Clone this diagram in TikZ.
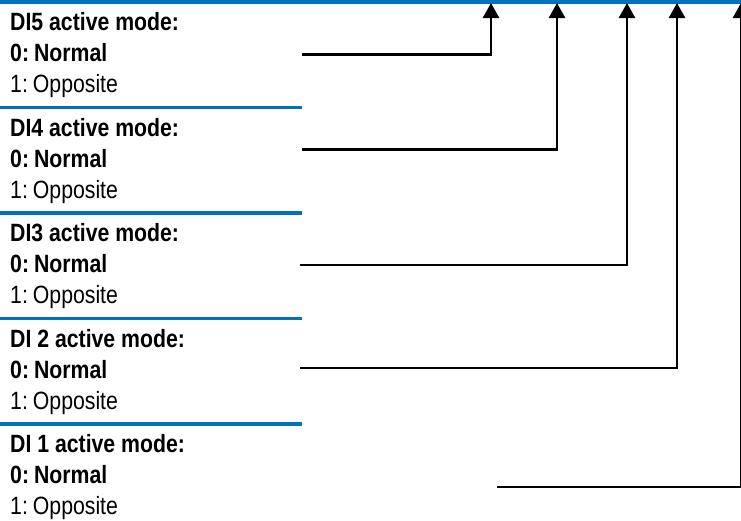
\documentclass[tikz,border=0pt]{standalone}
\usepackage{fontspec}
\setmainfont{Liberation Sans}[FakeStretch=0.85]
\usetikzlibrary{arrows.meta}
\definecolor{sepblue}{RGB}{0,112,192}
\newcommand{\gapsp}{\hspace{0.2em}}
\tikzset{
  sep/.style={draw=sepblue,line width=3.5pt},
  conn/.style={draw=black,line width=2.6pt,-{Triangle[width=16pt,length=15pt]}},
  head/.style={anchor=base west,inner sep=0pt,font=\fontsize{25}{28}\selectfont\bfseries},
  opt/.style={anchor=base west,inner sep=0pt,font=\fontsize{25}{28}\selectfont},
}
\begin{document}
\begin{tikzpicture}[x=1pt,y=-1pt]
\clip (0,0) rectangle (741,520);
\fill[white] (0,0) rectangle (741,520);
% separators
\draw[sep] (0,1.75) -- (741,1.75);
\draw[sep] (0,107.5) -- (302,107.5);
\draw[sep] (0,213) -- (302,213);
\draw[sep] (0,318.5) -- (302,318.5);
\draw[sep] (0,424) -- (302,424);
% texts
\node[head] (h5) at (10,30) {DI5 active mode:};
\node[head] (n5) at (10,61) {0:\gapsp Normal};
\node[opt]  (o5) at (10,92) {1:\gapsp Opposite};
\node[head] (h4) at (10,136) {DI4 active mode:};
\node[head] (n4) at (10,167) {0:\gapsp Normal};
\node[opt]  (o4) at (10,198) {1:\gapsp Opposite};
\node[head] (h3) at (10,241.5) {DI3 active mode:};
\node[head] (n3) at (10,272.5) {0:\gapsp Normal};
\node[opt]  (o3) at (10,303.5) {1:\gapsp Opposite};
\node[head] (h2) at (10,347) {DI 2 active mode:};
\node[head] (n2) at (10,378) {0:\gapsp Normal};
\node[opt]  (o2) at (10,409) {1:\gapsp Opposite};
\node[head] (h1) at (10,452.5) {DI 1 active mode:};
\node[head] (n1) at (10,483.5) {0:\gapsp Normal};
\node[opt]  (o1) at (10,514.5) {1:\gapsp Opposite};
% connector endpoints
\coordinate (s5) at (302,54.5);  \coordinate (t5) at (491,3);
\coordinate (s4) at (302,149.5); \coordinate (t4) at (557,3);
\coordinate (s3) at (300,265);   \coordinate (t3) at (627,3);
\coordinate (s2) at (300,368);   \coordinate (t2) at (677,3);
\coordinate (s1) at (497,487);   \coordinate (t1) at (741,3);
\draw[conn] (s5) -| (t5);
\draw[conn] (s4) -| (t4);
\draw[conn] (s3) -| (t3);
\draw[conn] (s2) -| (t2);
\draw[conn] (s1) -| (t1);
\end{tikzpicture}
\end{document}
